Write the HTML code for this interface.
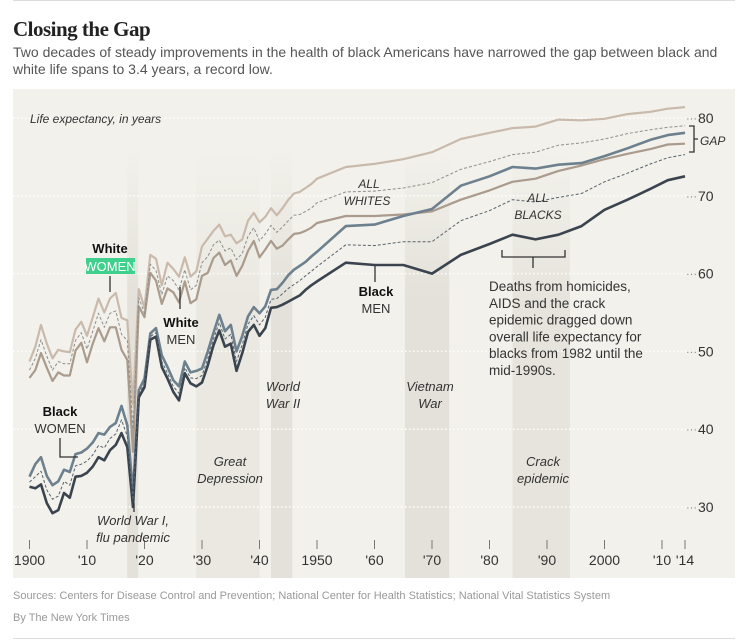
<!DOCTYPE html>
<html><head><meta charset="utf-8">
<style>
body{margin:0;width:747px;height:640px;background:#fff;font-family:"Liberation Sans",sans-serif;overflow:hidden;position:relative}
.t{position:absolute;white-space:nowrap}
</style></head>
<body>
<div style="position:absolute;left:13px;top:0;width:722px;height:1px;background:#ddd"></div>
<div class="t" style="left:13px;top:17px;font-family:'Liberation Serif',serif;font-weight:bold;font-size:21px;color:#222;letter-spacing:-0.5px">Closing the Gap</div>
<div class="t" style="left:13px;top:44px;font-size:14px;line-height:17px;color:#555;white-space:normal;width:720px">Two decades of steady improvements in the health of black Americans have narrowed the gap between black and white life spans to 3.4 years, a record low.</div>
<svg id="chart" width="747" height="640" style="position:absolute;left:0;top:0" xmlns="http://www.w3.org/2000/svg"></svg>
<div class="t" style="left:13px;top:590px;font-size:11px;color:#999">Sources: Centers for Disease Control and Prevention; National Center for Health Statistics; National Vital Statistics System</div>
<div class="t" style="left:13px;top:612px;font-size:11px;color:#999">By The New York Times</div>
<div style="position:absolute;left:13px;top:638px;width:722px;height:1px;background:#ddd"></div>
<script>
const years=[1900,1901,1902,1903,1904,1905,1906,1907,1908,1909,1910,1911,1912,1913,1914,1915,1916,1917,1918,1919,1920,1921,1922,1923,1924,1925,1926,1927,1928,1929,1930,1931,1932,1933,1934,1935,1936,1937,1938,1939,1940,1941,1942,1943,1944,1945,1946,1947,1948,1949,1950,1955,1960,1965,1970,1975,1980,1984,1988,1992,1996,2000,2004,2008,2011,2014];
const whiteWomen=[48.7,50.6,53.4,51.0,49.1,50.2,50.0,49.9,52.8,53.8,52.0,54.4,56.8,55.0,56.8,57.5,54.3,54.0,43.2,58.0,55.6,62.4,61.9,58.5,61.4,60.6,59.6,62.1,59.6,60.3,63.5,64.5,65.5,66.3,64.8,65.0,63.9,64.4,66.8,67.8,66.6,67.3,68.4,67.5,68.4,69.5,70.3,70.5,71.0,71.5,72.2,73.7,74.1,74.7,75.6,77.3,78.1,78.7,78.9,79.8,79.7,79.9,80.5,80.8,81.2,81.4];
const allWhites=[47.6,49.1,51.5,49.4,47.6,48.7,48.4,48.4,51.4,52.4,50.3,52.6,54.9,53.1,54.9,55.2,52.2,51.4,40.0,56.9,54.9,61.2,60.4,57.3,59.7,59.1,57.9,60.5,57.9,58.5,61.4,62.2,63.7,64.3,62.9,63.3,61.8,62.6,64.8,65.9,64.2,65.1,66.2,65.3,66.0,66.8,67.5,67.6,68.0,68.4,69.1,70.5,70.6,71.0,71.7,73.4,74.4,75.3,75.6,76.5,76.8,77.3,78.0,78.5,78.8,79.0];
const whiteMen=[46.6,47.6,49.8,47.9,46.2,47.3,46.9,46.9,50.1,51.1,48.6,51.0,53.0,51.3,53.1,53.1,50.2,48.9,37.1,55.8,54.4,60.1,59.1,56.1,58.1,57.6,56.3,59.0,56.2,56.7,59.7,60.1,62.0,62.7,61.1,61.7,59.7,61.0,62.9,64.2,62.1,63.1,64.2,63.2,63.6,64.4,65.1,65.2,65.5,65.9,66.5,67.4,67.4,67.6,68.0,69.5,70.7,71.8,72.2,73.2,73.9,74.7,75.4,76.0,76.6,76.7];
const blackWomen=[33.9,35.5,36.4,34.0,32.8,33.3,34.8,34.5,36.8,37.0,37.5,38.3,39.5,39.3,40.3,40.8,43.0,40.5,31.8,45.0,46.5,52.3,53.0,49.5,48.0,46.3,45.5,48.7,47.3,47.5,47.8,50.0,52.4,54.7,52.6,53.4,50.0,52.0,54.5,55.7,54.9,55.8,57.9,58.0,58.8,59.8,60.5,61.0,61.5,62.2,62.8,66.1,66.3,67.4,68.3,71.3,72.5,73.7,73.5,74.0,74.2,75.1,76.1,77.2,77.8,78.1];
const allBlacks=[33.2,33.9,34.6,32.2,31.0,31.4,33.3,32.8,35.3,35.5,35.9,36.7,37.9,37.6,38.8,39.4,41.2,39.1,30.9,44.5,45.9,51.9,52.4,48.7,47.2,45.5,44.6,47.9,46.6,46.5,46.9,49.1,51.6,53.7,51.6,52.2,48.7,50.9,53.5,54.6,53.4,54.4,56.7,56.8,57.4,58.1,58.6,59.1,59.7,60.3,60.9,63.7,63.6,64.1,64.1,66.8,68.1,69.5,69.2,69.8,70.3,71.8,72.9,74.1,74.9,75.3];
const blackMen=[32.6,32.4,32.9,30.5,29.2,29.6,31.8,31.2,33.9,34.0,34.4,35.2,36.4,36.0,37.3,38.0,39.5,37.7,30.0,44.1,45.4,51.5,51.9,48.0,46.5,44.8,43.7,47.2,45.9,45.5,46.0,48.2,50.8,52.7,50.6,51.0,47.5,49.8,52.5,53.4,52.0,53.0,55.6,55.7,56.0,56.4,56.8,57.2,57.9,58.5,59.0,61.4,61.1,61.1,60.0,62.4,63.8,65.0,64.4,65.0,66.1,68.2,69.5,70.9,72.0,72.5];
const yTicks=[30,40,50,60,70,80];
const xTicks=[1900,1910,1920,1930,1940,1950,1960,1970,1980,1990,2000,2010,2014];
const xTickLabels=["1900","'10","'20","'30","'40","1950","'60","'70","'80","'90","2000","'10","'14"];
const bandStarts=[1917,1929,1942,1965.3,1984];
const bandEnds=[1918.9,1940,1945.7,1973,1994];

const X=y=>29.5+(y-1900)*5.75;
const Y=v=>507-(v-30)*7.78;
const svg=document.getElementById('chart');
const NS='http://www.w3.org/2000/svg';
function mk(tag,attrs,parent){const e=document.createElementNS(NS,tag);for(const k in attrs)e.setAttribute(k,attrs[k]);(parent||svg).appendChild(e);return e;}
function txt(x,y,s,o){const e=mk('text',Object.assign({x:x,y:y,'font-size':13,fill:'#333','font-family':'Liberation Sans, sans-serif'},o||{}));e.textContent=s;return e;}

const defs=mk('defs',{});
const g1=mk('linearGradient',{id:'bandg',x1:0,y1:0,x2:0,y2:1},defs);
mk('stop',{offset:'0','stop-color':'#e3e1d9','stop-opacity':'0'},g1);
mk('stop',{offset:'0.35','stop-color':'#e3e1d9','stop-opacity':'1'},g1);
mk('stop',{offset:'1','stop-color':'#e3e1d9','stop-opacity':'1'},g1);

const panel=mk('rect',{x:13,y:89,width:722,height:489,fill:'#f2f1eb'});



const bandNames=['band-wwi','band-great-depression','band-wwii','band-vietnam','band-crack'];
bandStarts.forEach((s,i)=>{
  const r=mk('rect',{x:X(s),y:150,width:X(bandEnds[i])-X(s),height:428,fill:'url(#bandg)',opacity:i==1?0.55:(i==4?0.8:1)});
  
  
});

yTicks.forEach(v=>{
  const l=mk('line',{x1:13,x2:690,y1:Y(v),y2:Y(v),stroke:'#fff','stroke-width':1.5,'stroke-dasharray':'1.5 2.5'});
  
  
  const d=txt(686,Y(v)+4,'···',{'font-size':11,fill:'#888'});
  
  
  const t=txt(698,Y(v)+5,String(v),{'font-size':14,fill:'#333'});
  
  
});

xTicks.forEach((yr,i)=>{
  const l=mk('line',{x1:X(yr),x2:X(yr),y1:540,y2:549,stroke:'#777','stroke-width':1});
  
  
  const t=txt(X(yr),565,xTickLabels[i],{'font-size':14,'text-anchor':'middle',fill:'#333'});
  
  
});

function pathOf(arr){return arr.map((v,i)=>(i?'L':'M')+X(years[i]).toFixed(1)+','+Y(v).toFixed(1)).join('');}
const series=[
  [whiteWomen,'#c9baab',2.2,null,'line-white-women'],
  [whiteMen,'#aa9b8c',2.2,null,'line-white-men'],
  [allWhites,'#8e8e8e',1,'3 2','line-all-whites'],
  [blackWomen,'#6d808e',2.6,null,'line-black-women'],
  [blackMen,'#3a444e',2.6,null,'line-black-men'],
  [allBlacks,'#56626c',1,'3 2','line-all-blacks']
];
series.forEach(s=>{
  const p=mk('path',{d:pathOf(s[0]),fill:'none',stroke:s[1],'stroke-width':s[2],'stroke-linejoin':'round'});
  if(s[3])p.setAttribute('stroke-dasharray',s[3]);
  
  
});

function lbl(x,y,s,name,o){const t=txt(x,y,s,o);return t;}
function ln(d,name,c){const p=mk('path',{d:d,fill:'none',stroke:c||'#333','stroke-width':1.3});}

lbl(30,123,'Life expectancy, in years','y-axis-title',{'font-size':12,'font-style':'italic'});
lbl(110,253,'White','label-white-women-bold',{'font-weight':'bold','text-anchor':'middle',fill:'#111'});
const gr=mk('rect',{x:86,y:258,width:49,height:16,fill:'#3fd08d'});


lbl(110,271,'WOMEN','label-white-women',{'text-anchor':'middle',fill:'#fff'});
ln('M110,276V292','leader-white-women');
lbl(181,327,'White','label-white-men-bold',{'font-weight':'bold','text-anchor':'middle',fill:'#111'});
lbl(181,344,'MEN','label-white-men',{'text-anchor':'middle'});
ln('M180,309V287','leader-white-men');
lbl(60,416,'Black','label-black-women-bold',{'font-weight':'bold','text-anchor':'middle',fill:'#111'});
lbl(60,433,'WOMEN','label-black-women',{'text-anchor':'middle'});
ln('M60,438V457H78','leader-black-women');
lbl(376,296,'Black','label-black-men-bold',{'font-weight':'bold','text-anchor':'middle',fill:'#111'});
lbl(376,313,'MEN','label-black-men',{'text-anchor':'middle'});
ln('M375,282V266','leader-black-men');
lbl(133,525,'World War I,','label-wwi',{'font-style':'italic','text-anchor':'middle'});
lbl(133,542,'flu pandemic','label-wwi-2',{'font-style':'italic','text-anchor':'middle'});
ln('M134,512V503','leader-wwi');
lbl(230,466,'Great','label-depression',{'font-style':'italic','text-anchor':'middle'});
lbl(230,483,'Depression','label-depression-2',{'font-style':'italic','text-anchor':'middle'});
lbl(283,391,'World','label-wwii',{'font-style':'italic','text-anchor':'middle'});
lbl(283,408,'War II','label-wwii-2',{'font-style':'italic','text-anchor':'middle'});
lbl(430,391,'Vietnam','label-vietnam',{'font-style':'italic','text-anchor':'middle'});
lbl(430,408,'War','label-vietnam-2',{'font-style':'italic','text-anchor':'middle'});
lbl(543,466,'Crack','label-crack',{'font-style':'italic','text-anchor':'middle'});
lbl(543,483,'epidemic','label-crack-2',{'font-style':'italic','text-anchor':'middle'});
lbl(369,188,'ALL','label-all-whites',{'font-style':'italic','text-anchor':'middle','font-size':12});
lbl(367,205,'WHITES','label-all-whites-2',{'font-style':'italic','text-anchor':'middle','font-size':12});
lbl(538,202,'ALL','label-all-blacks',{'font-style':'italic','text-anchor':'middle','font-size':12});
lbl(538,219,'BLACKS','label-all-blacks-2',{'font-style':'italic','text-anchor':'middle','font-size':12});
ln('M502,250V257H565V250M533,257V268','bracket-crack');
['Deaths from homicides,','AIDS and the crack','epidemic dragged down','overall life expectancy for','blacks from 1982 until the','mid-1990s.'].forEach((s,i)=>{
  lbl(489,291+i*16.8,s,'annotation-crack-line-'+(i+1),{'font-size':13.5});
});
ln('M689,126H694V152H689M694,139H698','gap-bracket');
lbl(700,145,'GAP','label-gap',{'font-style':'italic','font-size':12});
</script>
</body></html>
